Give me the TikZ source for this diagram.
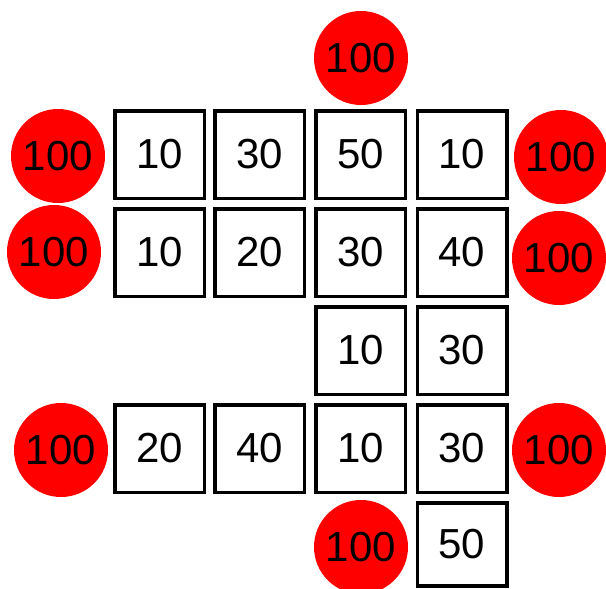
\documentclass[tikz,border=0pt]{standalone}
\usepackage{fontspec}
\setmainfont{Liberation Sans}
\begin{document}
\begin{tikzpicture}[x=1pt,y=-1pt,
  cell/.style={draw=black,line width=3.5pt,fill=white,minimum width=89.5pt,minimum height=87.5pt,inner sep=0pt,font=\fontsize{42}{50}\selectfont},
  src/.style={circle,fill=red,draw=none,minimum size=94pt,inner sep=0pt,font=\fontsize{42}{50}\selectfont}]
\useasboundingbox (0,0) rectangle (606,589);
% row 1
\node[cell] (a1) at (159.5,154.5) {10};
\node[cell] (a2) at (259.5,154.5) {30};
\node[cell] (a3) at (360.5,154.5) {50};
\node[cell] (a4) at (462,154.5) {10};
% row 2
\node[cell] (b1) at (159.5,252.5) {10};
\node[cell] (b2) at (259.5,252.5) {20};
\node[cell] (b3) at (360.5,252.5) {30};
\node[cell] (b4) at (462,252.5) {40};
% row 3
\node[cell] (c3) at (360.5,350.5) {10};
\node[cell] (c4) at (462,350.5) {30};
% row 4
\node[cell] (d1) at (159.5,448.5) {20};
\node[cell] (d2) at (259.5,448.5) {40};
\node[cell] (d3) at (360.5,448.5) {10};
\node[cell] (d4) at (462,448.5) {30};
% row 5
\node[cell,minimum height=83pt] (e4) at (462,544.5) {50};
% sources
\node[src] (top) at (361,58) {100};
\node[src] (l1) at (58,156) {100};
\node[src] (l2) at (54,252) {100};
\node[src] (l4) at (61,450) {100};
\node[src] (r1) at (561,157) {100};
\node[src] (r2) at (559,258) {100};
\node[src] (r4) at (559,450) {100};
\node[src] (bot) at (361,547) {100};
\end{tikzpicture}
\end{document}
